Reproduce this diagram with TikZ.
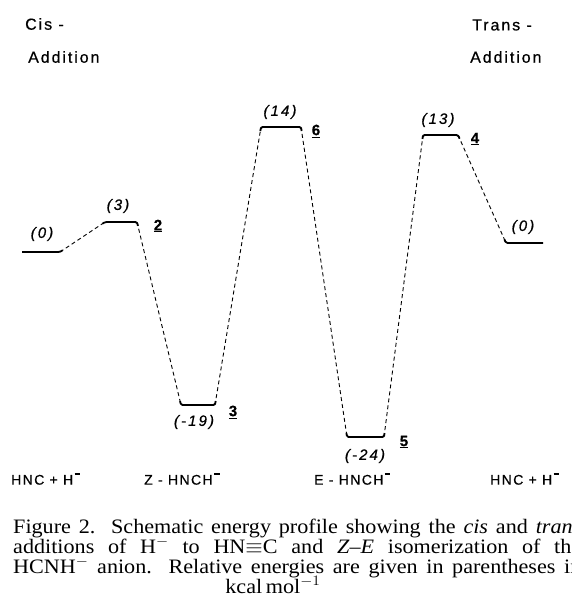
\documentclass[tikz,border=0pt]{standalone}
\usepackage{fontspec}
\usetikzlibrary{calc}
\setmainfont{Liberation Serif}
\newfontfamily\dfont[LetterSpace=12,FakeBold=0.6]{Liberation Sans}
\newfontfamily\sfont[LetterSpace=10,FakeBold=0.6]{Liberation Sans}
\newfontfamily\efont[LetterSpace=14,FakeBold=0.6]{Liberation Sans}
\newcommand{\negsup}{\kern1.5pt\raisebox{10pt}{\rule{5.5pt}{1.4pt}}}
\begin{document}
\begin{tikzpicture}[x=1pt,y=-1pt,
  level/.style={line width=1.8pt, rounded corners=1.5pt},
  conn/.style={line width=0.9pt, dash pattern=on 4pt off 3pt},
  head/.style={anchor=west, inner sep=0pt, font=\dfont\fontsize{16}{18}\selectfont},
  species/.style={anchor=west, inner sep=0pt, font=\sfont\fontsize{14}{16}\selectfont},
  energy/.style={inner sep=0pt, font=\efont\itshape\fontsize{15}{17}\selectfont},
  stnum/.style={inner sep=0pt, font=\efont\bfseries\fontsize{15}{17}\selectfont},
  captext/.style={anchor=base west, inner sep=0pt, font=\fontsize{20.5}{21}\selectfont}]
\useasboundingbox (0,0) rectangle (571,609);
\clip (0,0) rectangle (571,609);
% level end points
\coordinate (a0l) at (22,252);  \coordinate (a0r) at (60,252);
\coordinate (a2l) at (105,222); \coordinate (a2r) at (137,222);
\coordinate (a3l) at (181,405); \coordinate (a3r) at (215,405);
\coordinate (a6l) at (261,127); \coordinate (a6r) at (301,127);
\coordinate (a5l) at (347,437); \coordinate (a5r) at (384,437);
\coordinate (a4l) at (423,135); \coordinate (a4r) at (458,135);
\coordinate (b0l) at (506,243); \coordinate (b0r) at (543,243);
% levels (with short hooks into the connectors)
\draw[level] (a0l) -- (a0r) -- ($(a0r)!3pt!(a2l)$);
\draw[level] ($(a2l)!3pt!(a0r)$) -- (a2l) -- (a2r) -- ($(a2r)!4pt!(a3l)$);
\draw[level] ($(a3l)!4pt!(a2r)$) -- (a3l) -- (a3r) -- ($(a3r)!4pt!(a6l)$);
\draw[level] ($(a6l)!4pt!(a3r)$) -- (a6l) -- (a6r) -- ($(a6r)!4pt!(a5l)$);
\draw[level] ($(a5l)!4pt!(a6r)$) -- (a5l) -- (a5r) -- ($(a5r)!4pt!(a4l)$);
\draw[level] ($(a4l)!4pt!(a5r)$) -- (a4l) -- (a4r) -- ($(a4r)!4pt!(b0l)$);
\draw[level] ($(b0l)!4pt!(a4r)$) -- (b0l) -- (b0r);
% connectors
\draw[conn] (a0r) -- (a2l);
\draw[conn] (a2r) -- (a3l);
\draw[conn] (a3r) -- (a6l);
\draw[conn] (a6r) -- (a5l);
\draw[conn] (a5r) -- (a4l);
\draw[conn] (a4r) -- (b0l);
% energies
\node[energy] (e0) at (42,234) {(0)};
\node[energy] (e2) at (118,206) {(3)};
\node[energy] (e3) at (194,422) {(-19)};
\node[energy] (e6) at (280,112) {(14)};
\node[energy] (e5) at (365,456) {(-24)};
\node[energy] (e4) at (438,120) {(13)};
\node[energy] (e0r) at (523,227) {(0)};
% state numbers
\node[stnum] (n2) at (158,226) {\underline{2}};
\node[stnum] (n3) at (233,412) {\underline{3}};
\node[stnum] (n6) at (316,131) {\underline{6}};
\node[stnum] (n5) at (404,442) {\underline{5}};
\node[stnum] (n4) at (475,139) {\underline{4}};
% headings
\node[head] (cis) at (25,24) {Cis -};
\node[head] (cisadd) at (28,57) {Addition};
\node[head] (trans) at (472,25) {Trans -};
\node[head] (transadd) at (470,57) {Addition};
% species
\node[species] (s1) at (11,479) {HNC + H\negsup};
\node[species] (s2) at (144,479) {Z - HNCH\negsup};
\node[species] (s3) at (314,479) {E - HNCH\negsup};
\node[species] (s4) at (490,479) {HNC + H\negsup};
% caption
\node[captext] (c1) at (13,533) {\scalebox{1.08}[1]{\hbox to 526pt{Figure 2.\ \ Schematic energy profile showing the \textit{cis} and \textit{trans}}}};
\node[captext] (c2) at (13,553) {\scalebox{1.08}[1]{\hbox to 526pt{additions of H$^{-}$ to HN$\equiv$C and \textit{Z}--\textit{E} isomerization of the}}};
\node[captext] (c3) at (13,573) {\scalebox{1.08}[1]{\hbox to 526pt{HCNH$^{-}$ anion. Relative energies are given in parentheses in}}};
\node[captext, anchor=base] (c4) at (273,593) {\scalebox{1.08}[1]{kcal\,mol$^{-1}$}};
\end{tikzpicture}
\end{document}
